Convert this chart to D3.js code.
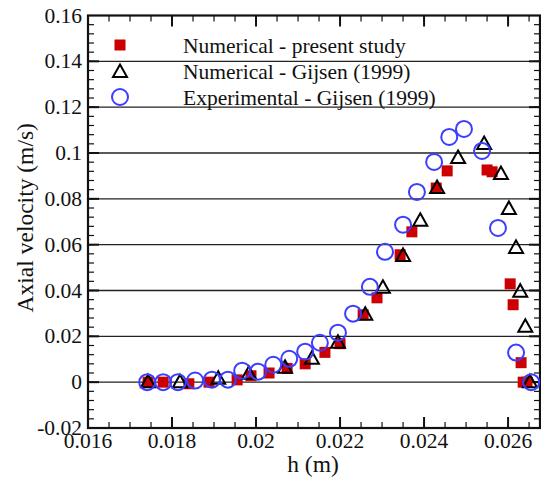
<!DOCTYPE html>
<html>
<head>
<meta charset="utf-8">
<script src="https://cdn.jsdelivr.net/npm/d3@7"></script>
<style>
  html, body { margin: 0; padding: 0; background: #fff; }
</style>
</head>
<body>
<svg id="chart" width="541" height="479"></svg>
<script>
// values: [h (m), axial velocity (m/s)]
const presentStudy = [
  [0.01743, 0.0], [0.01779, 0.0], [0.01840, -0.0007], [0.01888, 0.0],
  [0.01955, 0.0010], [0.01988, 0.0028], [0.02031, 0.0040], [0.02074, 0.0060],
  [0.02117, 0.0080], [0.02164, 0.0130], [0.02200, 0.0168], [0.02255, 0.0294],
  [0.02288, 0.0368], [0.02343, 0.0556], [0.02371, 0.0656], [0.02429, 0.0847],
  [0.02455, 0.0922], [0.02550, 0.0926], [0.02562, 0.0918], [0.02605, 0.0429],
  [0.02612, 0.0338], [0.02631, 0.0085], [0.02636, 0.0], [0.02645, 0.0]
];
const gijsenNumerical = [
  [0.01743, 0.0], [0.01819, 0.0], [0.01910, 0.0015], [0.01983, 0.0037],
  [0.02069, 0.0063], [0.02133, 0.0102], [0.02195, 0.0172], [0.02260, 0.0294],
  [0.02302, 0.0412], [0.02350, 0.0551], [0.02391, 0.0704], [0.02431, 0.0847],
  [0.02481, 0.0978], [0.02543, 0.1039], [0.02583, 0.0908], [0.02602, 0.0756],
  [0.02619, 0.0586], [0.02629, 0.0395], [0.02641, 0.0242], [0.02652, 0.0]
];
const gijsenExperimental = [
  [0.01741, 0.0], [0.01779, 0.0], [0.01814, 0.0], [0.01855, 0.0007],
  [0.01895, 0.0011], [0.01933, 0.0011], [0.01967, 0.0050], [0.02005, 0.0046],
  [0.02041, 0.0076], [0.02079, 0.0102], [0.02117, 0.0133], [0.02152, 0.0172],
  [0.02195, 0.0216], [0.02231, 0.0299], [0.02271, 0.0416], [0.02307, 0.0569],
  [0.02350, 0.0687], [0.02383, 0.0830], [0.02424, 0.0961], [0.02460, 0.1070],
  [0.02495, 0.1105], [0.02538, 0.1009], [0.02576, 0.0673], [0.02619, 0.0129],
  [0.02655, 0.0]
];
const xTicks = [0.016, 0.018, 0.020, 0.022, 0.024, 0.026];
const xTickLabels = ["0.016", "0.018", "0.02", "0.022", "0.024", "0.026"];
const yTicks = [-0.02, 0, 0.02, 0.04, 0.06, 0.08, 0.1, 0.12, 0.14, 0.16];
const yTickLabels = ["-0.02", "0", "0.02", "0.04", "0.06", "0.08", "0.1", "0.12", "0.14", "0.16"];
const legendLabels = ["Numerical - present study", "Numerical - Gijsen (1999)", "Experimental - Gijsen (1999)"];

const serif = "'Liberation Serif', 'Times New Roman', Times, 'DejaVu Serif', serif";
const svg = d3.select("#chart").attr("font-family", serif);
const plotL = 88, plotR = 540, plotT = 15.5, plotB = 428;

const x = d3.scaleLinear().domain([0.016, 0.02676]).range([plotL, plotR]);
const y = d3.scaleLinear().domain([-0.02, 0.16]).range([plotB, plotT]);

const xMinor = d3.range(0.016, 0.02676, 0.0005);
const yMinor = d3.range(-0.02, 0.16001, 0.004);

// horizontal grid lines at major y ticks
svg.append("g").selectAll("line")
  .data(yTicks.slice(1, -1))
  .join("line")
  .attr("x1", plotL).attr("x2", plotR)
  .attr("y1", d => y(d)).attr("y2", d => y(d))
  .attr("stroke", "#222").attr("stroke-width", 1.4);

// inward ticks on all four sides
const tickG = svg.append("g").attr("stroke", "#111");
function addTicks(vals, len, w) {
  vals.forEach(v => {
    const px = x(v);
    if (px > plotL + 1 && px < plotR - 1) {
      tickG.append("line").attr("x1", px).attr("x2", px).attr("y1", plotB).attr("y2", plotB - len).attr("stroke-width", w);
      tickG.append("line").attr("x1", px).attr("x2", px).attr("y1", plotT).attr("y2", plotT + len).attr("stroke-width", w);
    }
  });
}
function addYTicks(vals, len, w) {
  vals.forEach(v => {
    const py = y(v);
    if (py > plotT + 1 && py < plotB - 1) {
      tickG.append("line").attr("x1", plotL).attr("x2", plotL + len).attr("y1", py).attr("y2", py).attr("stroke-width", w);
      tickG.append("line").attr("x1", plotR).attr("x2", plotR - len).attr("y1", py).attr("y2", py).attr("stroke-width", w);
    }
  });
}
addTicks(xMinor, 6, 1.2);
addTicks(xTicks, 11, 2);
addYTicks(yMinor, 6, 1.2);
addYTicks(yTicks, 11, 2);

// frame
svg.append("rect")
  .attr("x", plotL).attr("y", plotT)
  .attr("width", plotR - plotL).attr("height", plotB - plotT)
  .attr("fill", "none").attr("stroke", "#111").attr("stroke-width", 2.2);

// tick labels
svg.append("g").selectAll("text")
  .data(xTicks)
  .join("text")
  .attr("x", d => x(d)).attr("y", 448)
  .attr("text-anchor", "middle")
  .attr("font-family", serif).attr("font-size", 21.5).attr("fill", "#111")
  .text((d, i) => xTickLabels[i]);

svg.append("g").selectAll("text")
  .data(yTicks)
  .join("text")
  .attr("x", 82).attr("y", d => y(d))
  .attr("dy", "0.33em")
  .attr("text-anchor", "end")
  .attr("font-family", serif).attr("font-size", 21.5).attr("fill", "#111")
  .text((d, i) => yTickLabels[i]);

// axis titles
svg.append("text")
  .attr("x", 313).attr("y", 472)
  .attr("text-anchor", "middle")
  .attr("font-family", serif).attr("font-size", 23.5).attr("fill", "#111")
  .text("h (m)");
svg.append("text")
  .attr("transform", `translate(33,${(plotT + plotB) / 2 - 4}) rotate(-90)`)
  .attr("text-anchor", "middle")
  .attr("font-family", serif).attr("font-size", 23.5).attr("fill", "#111")
  .text("Axial velocity (m/s)");

// markers
const red = "#cc0000", blue = "#3d3dff";
const sq = 11;
const triPath = "M0,-7.5 L7,5 L-7,5 Z";

const marks = svg.append("g");
marks.selectAll("rect")
  .data(presentStudy)
  .join("rect")
  .attr("x", d => x(d[0]) - sq / 2).attr("y", d => y(d[1]) - sq / 2)
  .attr("width", sq).attr("height", sq)
  .attr("fill", red);

marks.selectAll("path.tri")
  .data(gijsenNumerical)
  .join("path")
  .attr("class", "tri")
  .attr("transform", d => `translate(${x(d[0])},${y(d[1])})`)
  .attr("d", triPath)
  .attr("fill", "none").attr("stroke", "#000").attr("stroke-width", 2);

marks.selectAll("circle")
  .data(gijsenExperimental)
  .join("circle")
  .attr("cx", d => x(d[0])).attr("cy", d => y(d[1]))
  .attr("r", 8)
  .attr("fill", "none").attr("stroke", blue).attr("stroke-width", 2);

// legend
const legend = svg.append("g");
const legendY = [45, 71, 97];
legend.append("rect").attr("x", 120 - sq / 2).attr("y", legendY[0] - sq / 2).attr("width", sq).attr("height", sq).attr("fill", red);
legend.append("path").attr("transform", `translate(120,${legendY[1] + 1})`).attr("d", triPath)
  .attr("fill", "none").attr("stroke", "#000").attr("stroke-width", 2);
legend.append("circle").attr("cx", 120).attr("cy", legendY[2]).attr("r", 8)
  .attr("fill", "none").attr("stroke", blue).attr("stroke-width", 2);
legend.selectAll("text")
  .data(legendLabels)
  .join("text")
  .attr("x", 183).attr("y", (d, i) => legendY[i])
  .attr("dy", "0.35em")
  .attr("font-family", serif).attr("font-size", 21.5).attr("fill", "#111")
  .text(d => d);
</script>
</body>
</html>
